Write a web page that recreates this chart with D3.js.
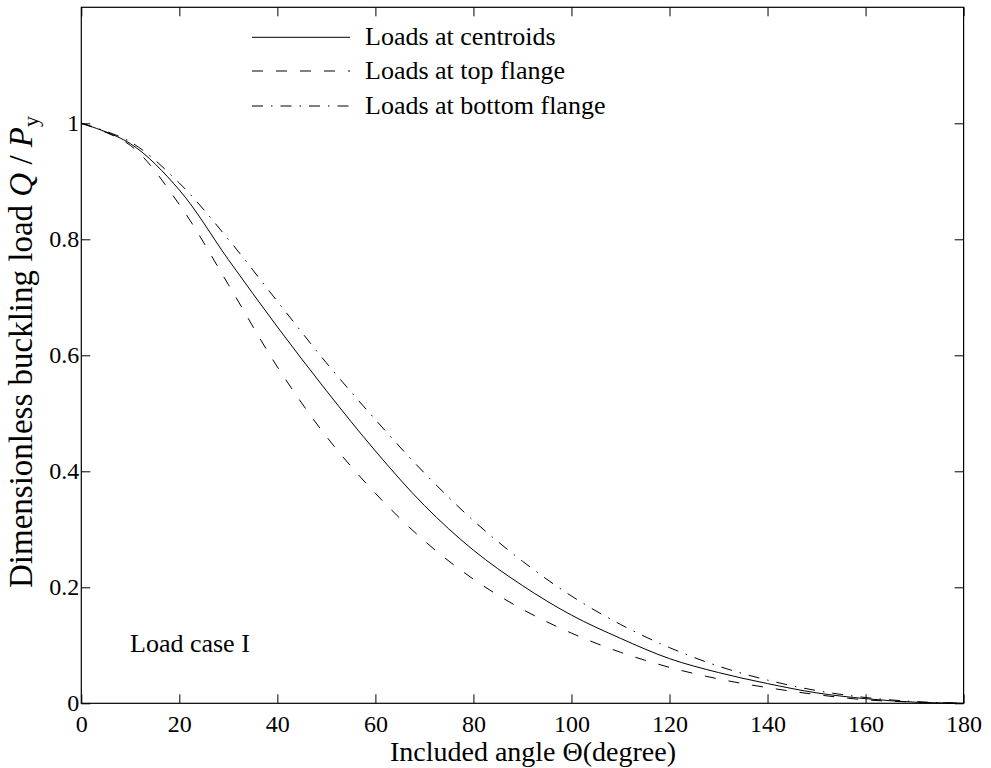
<!DOCTYPE html>
<html>
<head>
<meta charset="utf-8">
<script src="https://cdn.jsdelivr.net/npm/d3@7"></script>
<style>
  body { margin: 0; background: #fff; }
  svg text { font-family: 'Liberation Serif', 'Times New Roman', serif; fill: #000; }
</style>
</head>
<body>
<svg id="chart" width="991" height="768"></svg>
<script>
const angles = [0, 10, 20, 30, 40, 50, 60, 70, 80, 90, 100, 110, 120, 130, 140, 150, 160, 170, 180];
const centroids = [1, 0.965, 0.885, 0.765, 0.649, 0.539, 0.435, 0.341, 0.264, 0.203, 0.152, 0.112, 0.077, 0.053, 0.034, 0.018, 0.008, 0.002, 0];
const topFlange = [1, 0.962, 0.86, 0.722, 0.58, 0.46, 0.362, 0.28, 0.214, 0.162, 0.121, 0.088, 0.062, 0.042, 0.027, 0.015, 0.006, 0.002, 0];
const bottomFlange = [1, 0.968, 0.897, 0.8, 0.693, 0.587, 0.489, 0.397, 0.315, 0.245, 0.185, 0.136, 0.096, 0.064, 0.04, 0.022, 0.01, 0.003, 0];

const xTicks = [0, 20, 40, 60, 80, 100, 120, 140, 160, 180];
const yTicks = [0, 0.2, 0.4, 0.6, 0.8, 1];
const seriesNames = ['Loads at centroids', 'Loads at top flange', 'Loads at bottom flange'];
const dashes = [null, '11,13', '11,8,1.5,8'];

const FONT = "'Liberation Serif', 'Times New Roman', serif";
const svg = d3.select('#chart');
const plotLeft = 81.3, plotRight = 963.6, plotTop = 7.3, plotBottom = 703.3;

const x = d3.scaleLinear().domain([0, 180]).range([plotLeft, plotRight]);
const y = d3.scaleLinear().domain([0, 1.2]).range([plotBottom, plotTop]);

const tickLen = 9;

// bottom axis with inward ticks
const gx = svg.append('g').attr('transform', `translate(0,${plotBottom})`)
  .call(d3.axisBottom(x).tickValues(xTicks).tickSizeInner(-tickLen).tickSizeOuter(0).tickPadding(12));
gx.selectAll('text').attr('dy', '0.71em');

// left axis with inward ticks
const gy = svg.append('g').attr('transform', `translate(${plotLeft},0)`)
  .call(d3.axisLeft(y).tickValues(yTicks).tickFormat(d3.format('')).tickSizeInner(-tickLen).tickSizeOuter(0).tickPadding(2));

// top and right mirrored ticks
svg.append('g').attr('transform', `translate(0,${plotTop})`)
  .call(d3.axisTop(x).tickValues(xTicks).tickSizeInner(-tickLen).tickSizeOuter(0).tickFormat(''));
svg.append('g').attr('transform', `translate(${plotRight},0)`)
  .call(d3.axisRight(y).tickValues(yTicks).tickSizeInner(-tickLen).tickSizeOuter(0).tickFormat(''));

svg.selectAll('.domain').remove();
svg.selectAll('g').attr('font-family', null);
svg.selectAll('.tick line').attr('stroke', '#000').attr('stroke-width', 1);
svg.selectAll('.tick text').style('font-family', FONT).style('font-size', '24px');

// frame
svg.append('rect')
  .attr('x', plotLeft).attr('y', plotTop)
  .attr('width', plotRight - plotLeft).attr('height', plotBottom - plotTop)
  .attr('fill', 'none').attr('stroke', '#000').attr('stroke-width', 1.2);

// curves
const line = d3.line()
  .x((d, i) => x(angles[i]))
  .y(d => y(d))
  .curve(d3.curveCatmullRom.alpha(0.5));

[centroids, topFlange, bottomFlange].forEach((vals, k) => {
  svg.append('path')
    .attr('d', line(vals))
    .attr('fill', 'none')
    .attr('stroke', '#000')
    .attr('stroke-width', 1)
    .attr('stroke-dasharray', dashes[k]);
});

// legend
const legendRows = [37.3, 71, 106];
seriesNames.forEach((name, k) => {
  svg.append('line')
    .attr('x1', 252).attr('x2', 350)
    .attr('y1', legendRows[k]).attr('y2', legendRows[k])
    .attr('stroke', '#000').attr('stroke-width', 1)
    .attr('stroke-dasharray', dashes[k]);
  svg.append('text')
    .attr('x', 365).attr('y', legendRows[k] + 8)
    .style('font-family', FONT).style('font-size', '26px')
    .text(name);
});

svg.append('text')
  .attr('x', 130).attr('y', 652)
  .style('font-family', FONT).style('font-size', '26px')
  .text('Load case I');

// axis titles
svg.append('text')
  .attr('x', 533).attr('y', 761)
  .attr('text-anchor', 'middle')
  .style('font-family', FONT).style('font-size', '28px')
  .text('Included angle Θ(degree)');

const yl = svg.append('text')
  .attr('transform', 'translate(32,352) rotate(-90)')
  .attr('text-anchor', 'middle')
  .style('font-family', FONT).style('font-size', '33px');
yl.append('tspan').text('Dimensionless buckling load ');
yl.append('tspan').attr('font-style', 'italic').text('Q');
yl.append('tspan').text(' / ');
yl.append('tspan').attr('font-style', 'italic').text('P');
yl.append('tspan').style('font-size', '22px').attr('dy', 6).text('y');
</script>
</body>
</html>
